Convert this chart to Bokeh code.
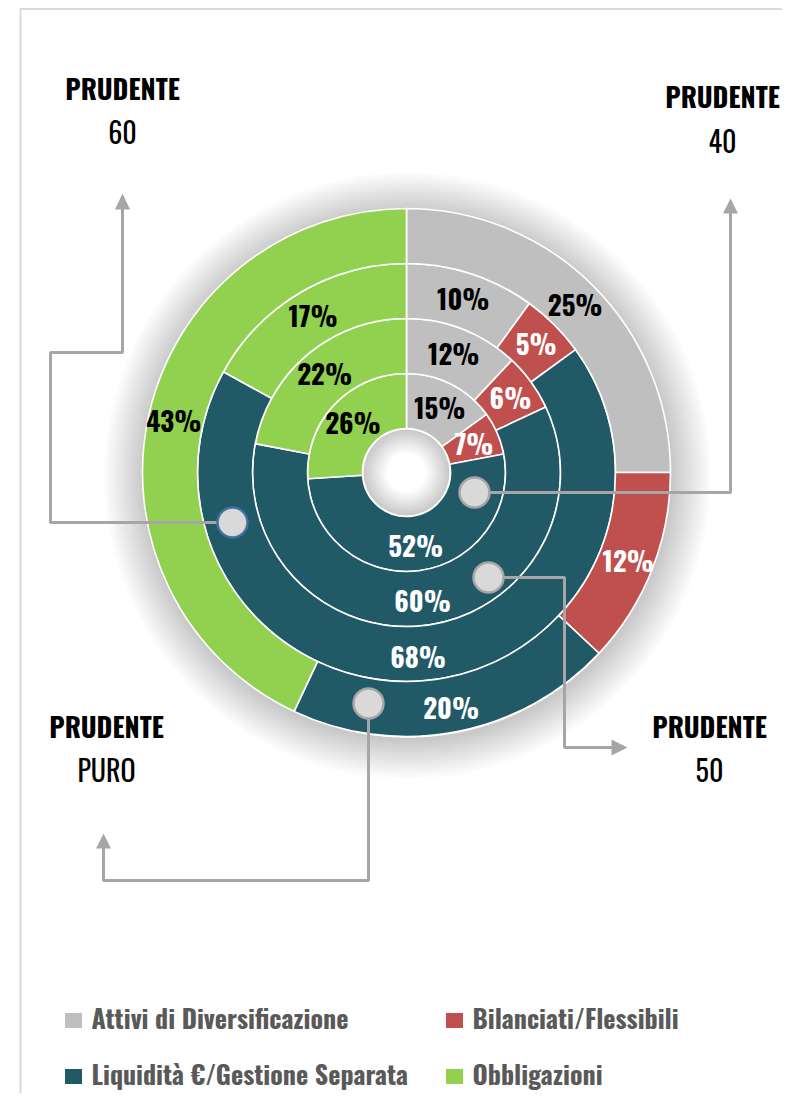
import math
from bokeh.plotting import figure
from bokeh.models import ColumnDataSource, Range1d
from bokeh.core.properties import value
from bokeh.embed import file_html
from bokeh.resources import INLINE

# ---------------- data ----------------
categories = ["Attivi di Diversificazione", "Bilanciati/Flessibili",
              "Liquidità €/Gestione Separata", "Obbligazioni"]
colors = ["#bfbfbf", "#c0504d", "#215967", "#92d050"]
label_colors = ["#000000", "#ffffff", "#ffffff", "#000000"]
title_word = "PRUDENTE"
profiles = ["40", "50", "60", "PURO"]          # rings, inner -> outer
attivi = [15, 12, 10, 25]
bilanciati = [7, 6, 5, 12]
liquidita = [52, 60, 68, 20]
obbligazioni = [26, 22, 17, 43]
series = [attivi, bilanciati, liquidita, obbligazioni]

# ---------------- layout ----------------
W, H = 782, 1093
FONT = "Oswald"


def Y(py):
    return H - py


CX, CY = 406, Y(472)
HOLE = 44
RING_W = 55

p = figure(width=W, height=H, x_range=Range1d(0, W), y_range=Range1d(0, H),
           x_axis_type=None, y_axis_type=None, toolbar_location=None,
           output_backend="svg", min_border=0, outline_line_color=None,
           background_fill_color="white", border_fill_color="white")
p.grid.visible = False

# frame lines
p.line([20, 20, 800], [Y(1110), Y(8.5), Y(8.5)], line_color="#d9d9d9", line_width=2)

# outer soft shadow
R_OUT = HOLE + RING_W * len(profiles)
for k in range(1, 19):
    p.annulus(x=CX + 1, y=CY - 3, inner_radius=R_OUT - 2, outer_radius=R_OUT + k * 2.2,
              fill_color="black", fill_alpha=0.011, line_color=None)

# wedges
wx, wy, wi, wo, ws, we, wc = [], [], [], [], [], [], []
lx, ly, lt, lc = [], [], [], []
for i, prof in enumerate(profiles):
    r0 = HOLE + RING_W * i
    r1 = r0 + RING_W
    cum = 0.0
    for j in range(len(categories)):
        v = series[j][i]
        a0 = cum / 100.0 * 2 * math.pi
        a1 = (cum + v) / 100.0 * 2 * math.pi
        wx.append(CX); wy.append(CY); wi.append(r0); wo.append(r1)
        ws.append(math.pi / 2 - a0); we.append(math.pi / 2 - a1); wc.append(colors[j])
        am = (a0 + a1) / 2
        rm = (r0 + r1) / 2 + 2
        lx.append(CX + rm * math.sin(am))
        ly.append(CY + rm * math.cos(am))
        lt.append(f"{v}%")
        lc.append(label_colors[j])
        cum += v

p.annular_wedge(x="x", y="y", inner_radius="ri", outer_radius="ro",
                start_angle="s", end_angle="e", direction="clock",
                fill_color="c", line_color="white", line_width=1.6,
                source=ColumnDataSource(dict(x=wx, y=wy, ri=wi, ro=wo, s=ws, e=we, c=wc)))

# inner hole shading
for k in range(1, 12):
    p.annulus(x=CX, y=CY, inner_radius=HOLE - k * 2.2, outer_radius=HOLE - 1,
              fill_color="black", fill_alpha=0.018, line_color=None)

p.text(x="x", y="y", text="t", text_color="c", source=ColumnDataSource(dict(x=lx, y=ly, t=lt, c=lc)),
       text_font=value(FONT), text_font_style="bold", text_font_size="27px",
       text_align="center", text_baseline="middle")

# ---------------- callouts ----------------
LINE_C = "#a6a6a6"
paths = [
    ([474, 730, 730], [492, 492, 212]),                 # 40
    ([488, 564, 564, 613], [577, 577, 747, 747]),        # 50
    ([232, 50, 50, 122, 122], [522, 522, 352, 352, 207]),  # 60
    ([368, 368, 103, 103], [703, 880, 880, 846]),        # PURO
]
for xs, ys in paths:
    p.line(xs, [Y(v) for v in ys], line_color=LINE_C, line_width=3)

heads_x = [[722.5, 737.5, 730], [611, 611, 627], [114.5, 129.5, 122], [95.5, 110.5, 103]]
heads_y = [[213, 213, 198], [739, 755, 747], [209, 209, 193], [848, 848, 833]]
p.patches(heads_x, [[Y(v) for v in ys] for ys in heads_y], fill_color=LINE_C, line_color=None)

dot_x = [474, 488, 232, 368]
dot_y = [492, 577, 522, 703]
dot_line = [LINE_C, LINE_C, "#41719c", LINE_C]
p.scatter(x=dot_x, y=[Y(v) for v in dot_y], size=30, marker="circle",
          fill_color="#d9d9d9", line_color=dot_line, line_width=2.5)

tx = [722, 709, 122, 106]
ty_title = [95, 725, 87, 725]
ty_sub = [140, 769, 131, 769]
p.text(x=tx, y=[Y(v) for v in ty_title], text=[title_word] * 4, text_color="black",
       text_font=value(FONT), text_font_style="bold", text_font_size="27px",
       text_align="center", text_baseline="middle")
p.text(x=tx, y=[Y(v) for v in ty_sub], text=profiles, text_color="black",
       text_font=value(FONT), text_font_size="28px",
       text_align="center", text_baseline="middle")

# ---------------- legend ----------------
leg_sx = [73, 454, 73, 454]
leg_y = [1020, 1020, 1076, 1076]
p.rect(x=leg_sx, y=[Y(v) for v in leg_y], width=17, height=15,
       fill_color=colors, line_color=None)
p.text(x=[v + 18 for v in leg_sx], y=[Y(v - 3) for v in leg_y], text=categories,
       text_color="#595959", text_font=value(FONT), text_font_style="bold", text_font_size="26px",
       text_align="left", text_baseline="middle")

open("out.html", "w").write(file_html(p, INLINE))
